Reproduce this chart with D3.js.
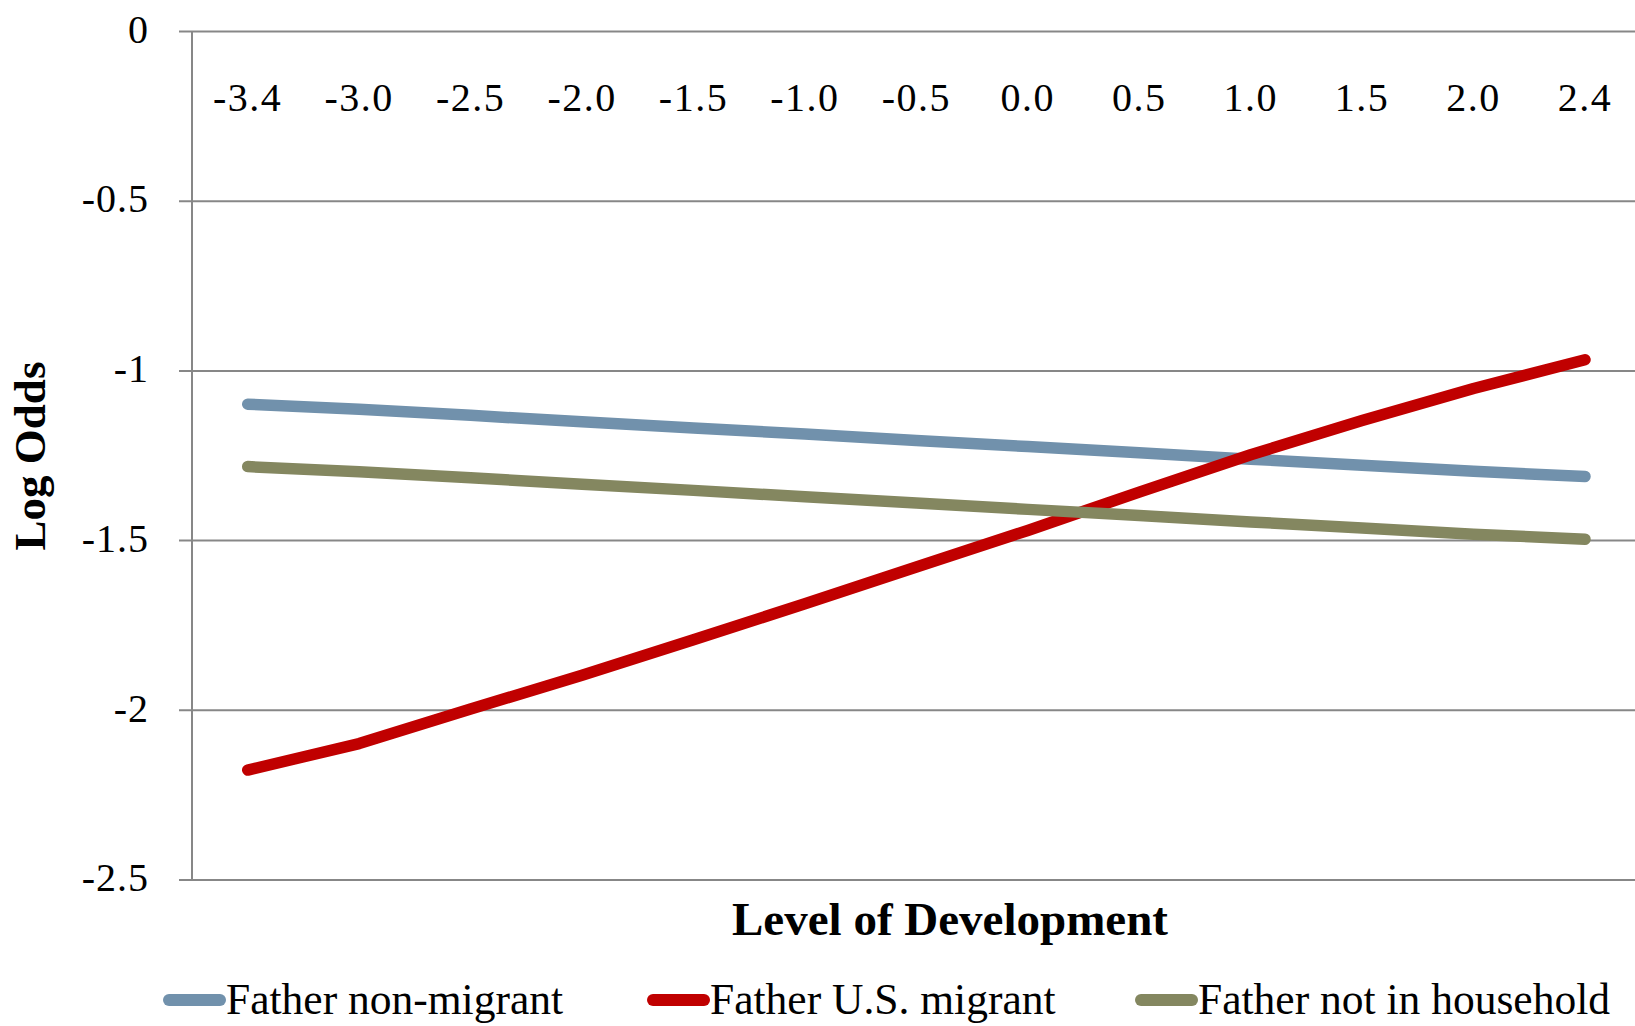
<!DOCTYPE html>
<html>
<head>
<meta charset="utf-8">
<script src="https://cdn.jsdelivr.net/npm/d3@7/dist/d3.min.js"></script>
<style>
  html, body { margin: 0; padding: 0; background: #fff; }
  svg { display: block; }
  text { font-family: "Liberation Serif", "DejaVu Serif", serif; fill: #000; }
</style>
</head>
<body>
<svg id="chart" width="1635" height="1026"></svg>
<script>
// Level of development (category axis)
const categories = ["-3.4", "-3.0", "-2.5", "-2.0", "-1.5", "-1.0", "-0.5", "0.0", "0.5", "1.0", "1.5", "2.0", "2.4"];

// Predicted log odds for each father status
const fatherNonMigrant   = [-1.098, -1.113, -1.131, -1.150, -1.168, -1.186, -1.205, -1.223, -1.241, -1.260, -1.278, -1.296, -1.311];
const fatherUSMigrant    = [-2.176, -2.098, -1.996, -1.897, -1.792, -1.686, -1.578, -1.470, -1.357, -1.247, -1.146, -1.052, -0.967];
const fatherNotInHousehold = [-1.282, -1.297, -1.315, -1.334, -1.352, -1.371, -1.389, -1.408, -1.426, -1.445, -1.463, -1.481, -1.496];

const seriesNames = ["Father non-migrant", "Father U.S. migrant", "Father not in household"];
const seriesColors = ["#7191ac", "#c00000", "#848760"];
const yTicks = [0, -0.5, -1, -1.5, -2, -2.5];
const yTickLabels = ["0", "-0.5", "-1", "-1.5", "-2", "-2.5"];

const series = [fatherNonMigrant, fatherUSMigrant, fatherNotInHousehold];

const svg = d3.select("#chart");

const plotLeft = 192, bandW = 111.44;
const x = d3.scaleBand().domain(categories).range([plotLeft, plotLeft + bandW * categories.length]).padding(0);
const y = d3.scaleLinear().domain([-2.5, 0]).range([880, 31.5]);

const gridColor = "#878787";

// horizontal gridlines with short outer ticks
svg.append("g").selectAll("line").data(yTicks).join("line")
  .attr("x1", plotLeft - 13).attr("x2", 1635)
  .attr("y1", d => y(d)).attr("y2", d => y(d))
  .attr("stroke", gridColor).attr("stroke-width", 2);

// vertical axis line
svg.append("line")
  .attr("x1", plotLeft).attr("x2", plotLeft)
  .attr("y1", y(0)).attr("y2", y(-2.5))
  .attr("stroke", gridColor).attr("stroke-width", 2);

// y tick labels
svg.append("g").selectAll("text").data(yTicks).join("text")
  .attr("x", 149).attr("y", d => y(d)).attr("dy", "0.28em")
  .attr("text-anchor", "end").attr("font-size", 40).attr("letter-spacing", 1)
  .text((d, i) => yTickLabels[i]);

// category labels sit just under the zero line
svg.append("g").selectAll("text").data(categories).join("text")
  .attr("x", d => x(d) + x.bandwidth() / 2).attr("y", 97).attr("dy", "0.35em")
  .attr("text-anchor", "middle").attr("font-size", 40).attr("letter-spacing", 1.5)
  .text(d => d);

// series lines
const line = d3.line()
  .x((d, i) => x(categories[i]) + x.bandwidth() / 2)
  .y(d => y(d));

svg.append("g").selectAll("path").data(series).join("path")
  .attr("d", d => line(d))
  .attr("fill", "none")
  .attr("stroke", (d, i) => seriesColors[i])
  .attr("stroke-width", 11.5)
  .attr("stroke-linecap", "round")
  .attr("stroke-linejoin", "round");

// axis titles
svg.append("text")
  .attr("transform", "translate(29,456) rotate(-90)")
  .attr("dy", "0.35em").attr("text-anchor", "middle")
  .attr("font-size", 45).attr("font-weight", "bold")
  .text("Log Odds");

svg.append("text")
  .attr("x", 950).attr("y", 919).attr("dy", "0.35em")
  .attr("text-anchor", "middle")
  .attr("font-size", 47).attr("font-weight", "bold")
  .text("Level of Development");

// legend
const legendX = [165, 649, 1137];
const legend = svg.append("g").selectAll("g").data(seriesNames).join("g")
  .attr("transform", (d, i) => `translate(${legendX[i]},1000)`);
legend.append("line")
  .attr("x1", 4).attr("x2", 55).attr("y1", 0).attr("y2", 0)
  .attr("stroke", (d, i) => seriesColors[i])
  .attr("stroke-width", 12).attr("stroke-linecap", "round");
legend.append("text")
  .attr("x", 61).attr("y", 0).attr("dy", "0.33em")
  .attr("font-size", 43.5)
  .text(d => d);
</script>
</body>
</html>
